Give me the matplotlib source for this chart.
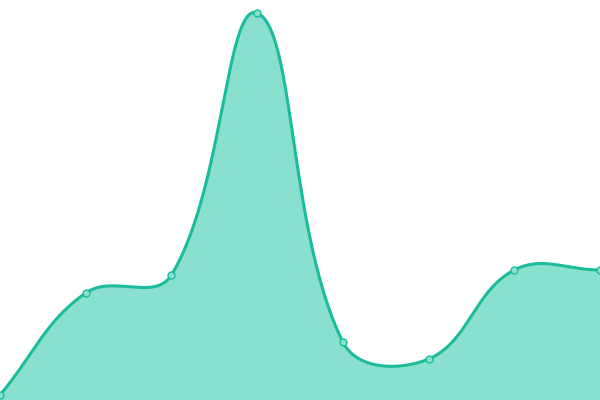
import numpy as np
import matplotlib
matplotlib.use("Agg")
import matplotlib.pyplot as plt

# one value per evenly spaced category
categories = ["A", "B", "C", "D", "E", "F", "G", "H"]
values = [5, 107, 125, 387, 58, 41, 130, 130]

LINE = "#1abc9c"
FILL = "#8ae0cf"
TENSION = 0.4


def spline(px, py, box, t=TENSION, n=60):
    """Bezier spline through the points in screen space (Chart.js-style),
    control points capped to the plot box."""
    pts = np.column_stack([px, py])
    x0, y0, x1, y1 = box
    cps = []
    for i, p in enumerate(pts):
        prev = pts[i - 1] if i > 0 else p
        nxt = pts[i + 1] if i < len(pts) - 1 else p
        d01 = np.hypot(*(p - prev))
        d12 = np.hypot(*(nxt - p))
        s01 = d01 / (d01 + d12)
        s12 = d12 / (d01 + d12)
        a = p - t * s01 * (nxt - prev)
        b = p + t * s12 * (nxt - prev)
        a = np.clip(a, [x0, y0], [x1, y1])
        b = np.clip(b, [x0, y0], [x1, y1])
        cps.append((a, b))
    s = np.linspace(0, 1, n)[:, None]
    out = []
    for i in range(len(pts) - 1):
        p0, p3 = pts[i], pts[i + 1]
        c1, c2 = cps[i][1], cps[i + 1][0]
        seg = ((1 - s) ** 3 * p0 + 3 * (1 - s) ** 2 * s * c1
               + 3 * (1 - s) * s ** 2 * c2 + s ** 3 * p3)
        out.append(seg if i == 0 else seg[1:])
    return np.vstack(out)


fig = plt.figure(figsize=(6, 4), dpi=100)
ax = fig.add_axes([0, 0, 1, 1])
x = np.arange(len(categories))
ax.set_xlim(0, len(categories) - 1)
ax.set_ylim(0, 400)
ax.axis("off")

# smooth in pixel space, then map back to data space
disp = ax.transData.transform(np.column_stack([x, values]))
bb = ax.bbox
curve = spline(disp[:, 0], disp[:, 1], (bb.x0, bb.y0, bb.x1, bb.y1))
curve = ax.transData.inverted().transform(curve)

ax.fill_between(curve[:, 0], 0, curve[:, 1], color=FILL, lw=0, zorder=1)
ax.plot(curve[:, 0], curve[:, 1], color=LINE, lw=2.2, zorder=2,
        solid_capstyle="round")
ax.plot(x, values, ls="none", marker="o", ms=5, mfc=FILL, mec=LINE,
        mew=1.0, zorder=3)

fig.savefig("out.png", dpi=100)
